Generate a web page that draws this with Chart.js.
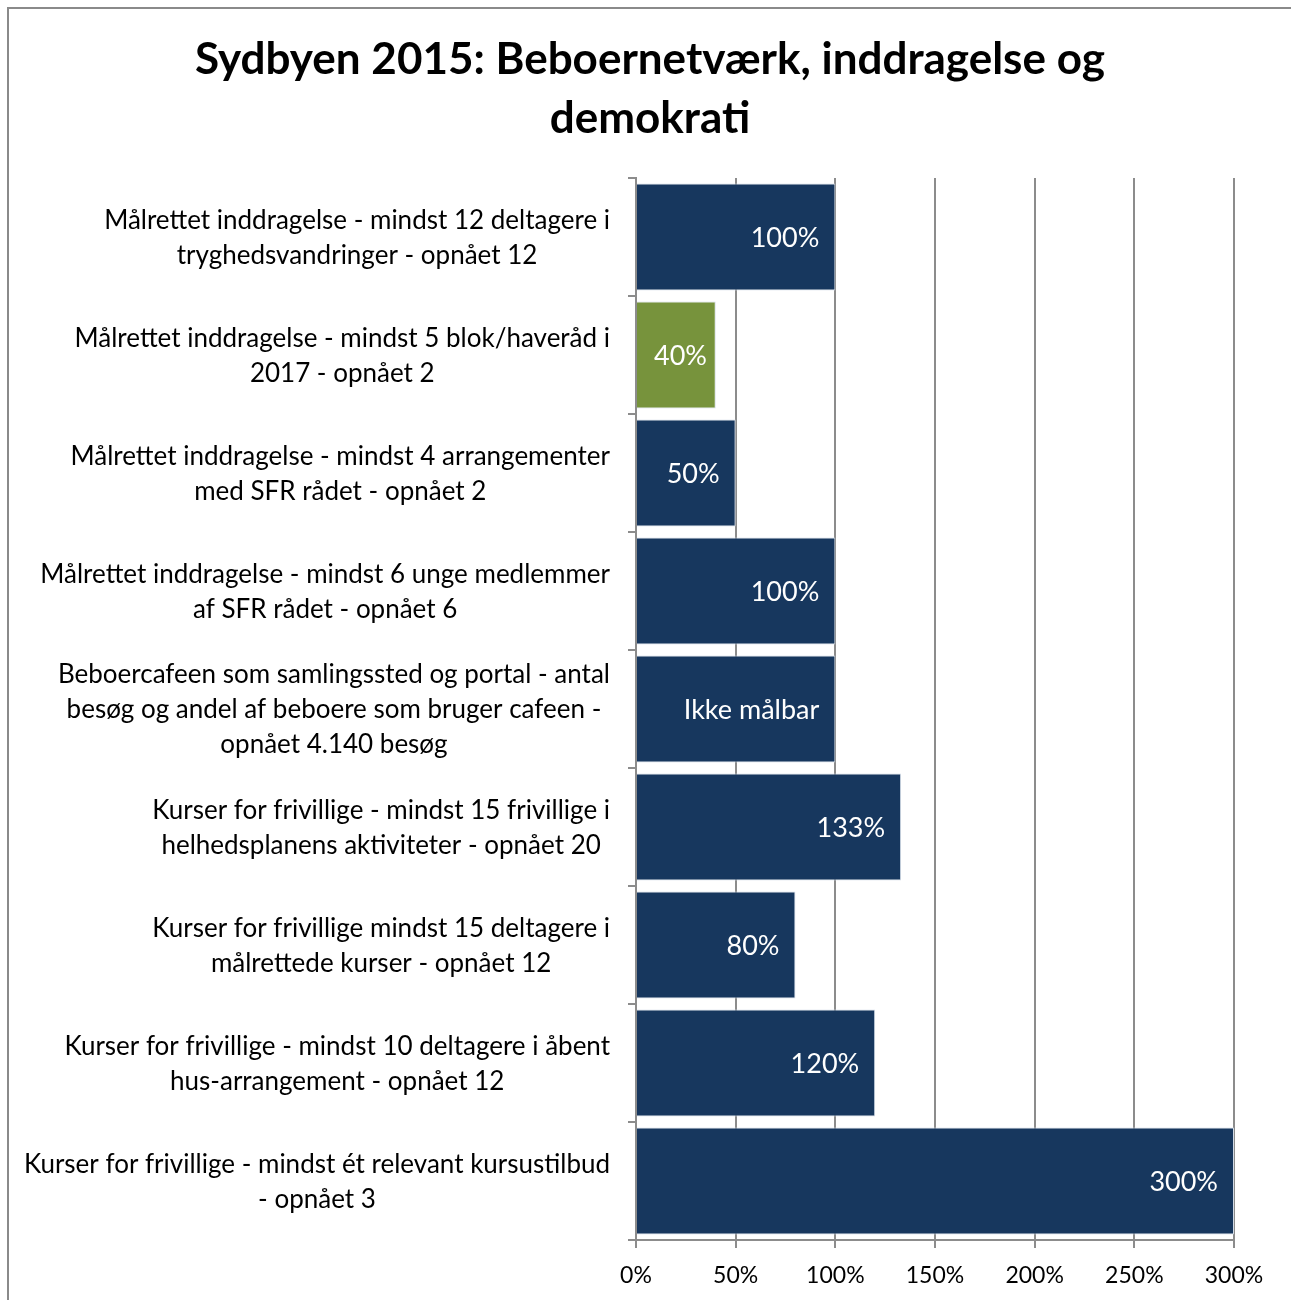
<!DOCTYPE html>
<html>
<head>
<meta charset="utf-8">
<script src="https://cdn.jsdelivr.net/npm/chart.js@4.4.0/dist/chart.umd.min.js"></script>
<style>
  html, body { margin: 0; padding: 0; background: #fff; }
  #wrap { position: relative; width: 1291px; height: 1300px; overflow: hidden; }
  #frame { position: absolute; left: 7px; top: 7px; width: 1300px; height: 1310px; border: 2px solid #8a8a8a; box-sizing: border-box; pointer-events: none; }
  canvas { position: absolute; left: 0; top: 0; }
</style>
</head>
<body>
<div id="wrap">
  <canvas id="chart" width="1291" height="1300"></canvas>
  <div id="frame"></div>
</div>
<script>
const categories = [
  ['Målrettet inddragelse - mindst 12 deltagere i', 'tryghedsvandringer - opnået 12'],
  ['Målrettet inddragelse - mindst 5 blok/haveråd i', '2017 - opnået 2'],
  ['Målrettet inddragelse - mindst 4 arrangementer', 'med SFR rådet - opnået 2'],
  ['Målrettet inddragelse - mindst 6 unge medlemmer', 'af SFR rådet - opnået 6'],
  ['Beboercafeen som samlingssted og portal - antal', 'besøg og andel af beboere som bruger cafeen -', 'opnået 4.140 besøg'],
  ['Kurser for frivillige - mindst 15 frivillige i', 'helhedsplanens aktiviteter - opnået 20'],
  ['Kurser for frivillige mindst 15 deltagere i', 'målrettede kurser - opnået 12'],
  ['Kurser for frivillige - mindst 10 deltagere i åbent', 'hus-arrangement - opnået 12'],
  ['Kurser for frivillige - mindst ét relevant kursustilbud', '- opnået 3']
];
const achieved = [100, 40, 50, 100, 100, 133, 80, 120, 300];
const barLabels = ['100%', '40%', '50%', '100%', 'Ikke målbar', '133%', '80%', '120%', '300%'];
const xTicks = [0, 50, 100, 150, 200, 250, 300];

const FONT = 'Lato';
const NAVY = '#17375E';
const GREEN = '#77933C';
const GRID = '#8c8c8c';

// white value labels at the inner end of each bar
const valueLabels = {
  id: 'valueLabels',
  afterDatasetsDraw(chart) {
    const { ctx } = chart;
    const meta = chart.getDatasetMeta(0);
    ctx.save();
    ctx.font = '27px ' + FONT;
    ctx.fillStyle = '#fff';
    ctx.textAlign = 'right';
    ctx.textBaseline = 'middle';
    meta.data.forEach((bar, i) => {
      const { x, y, base } = bar.getProps(['x', 'y', 'base'], true);
      const w = ctx.measureText(barLabels[i]).width;
      const tx = Math.max(x - 16, base + w + 17);
      ctx.fillText(barLabels[i], tx, y + 1);
    });
    ctx.restore();
  }
};

// category labels: block right aligned, lines centred within the block
const categoryLabels = {
  id: 'categoryLabels',
  afterDraw(chart) {
    const { ctx } = chart;
    const y = chart.scales.y;
    ctx.save();
    ctx.font = '26px ' + FONT;
    ctx.fillStyle = '#000';
    ctx.textAlign = 'center';
    ctx.textBaseline = 'middle';
    const right = y.right - 26;
    const lineH = 35;
    categories.forEach((lines, i) => {
      const w = Math.max(...lines.map(l => ctx.measureText(l).width));
      const cx = right - w / 2;
      const cy = y.getPixelForValue(i) + 1;
      lines.forEach((l, j) => {
        ctx.fillText(l, cx, cy + (j - (lines.length - 1) / 2) * lineH);
      });
    });
    ctx.restore();
  }
};

new Chart(document.getElementById('chart'), {
  type: 'bar',
  data: {
    labels: categories,
    datasets: [{
      data: achieved,
      backgroundColor: c => c.raw < 50 ? GREEN : NAVY,
      borderColor: '#d3dbe6',
      borderWidth: 1,
      barPercentage: 0.907,
      categoryPercentage: 1
    }]
  },
  options: {
    indexAxis: 'y',
    responsive: false,
    animation: false,
    layout: { padding: { left: 66, right: 57, top: 0, bottom: 0 } },
    plugins: {
      legend: { display: false },
      tooltip: { enabled: false },
      title: {
        display: true,
        text: ['Sydbyen 2015: Beboernetværk, inddragelse og', 'demokrati'],
        color: '#000',
        font: { family: FONT, size: 44, weight: 'bold', lineHeight: 1.33 },
        padding: { top: 31, bottom: 30 }
      }
    },
    scales: {
      x: {
        min: 0,
        max: 300,
        afterFit: s => { s.height = 60; },
        afterBuildTicks: s => { s.ticks = xTicks.map(v => ({ value: v })); },
        grid: { color: GRID, lineWidth: 2, tickLength: 8 },
        border: { color: GRID, width: 2 },
        ticks: {
          callback: v => v + '%',
          color: '#000',
          font: { family: FONT, size: 23 },
          padding: 14,
          maxRotation: 0
        }
      },
      y: {
        afterFit: s => { s.width = 570; },
        grid: { drawOnChartArea: false, tickLength: 8, color: GRID, lineWidth: 2, offset: true },
        border: { color: GRID, width: 2 },
        ticks: { display: false }
      }
    }
  },
  plugins: [valueLabels, categoryLabels]
});
</script>
</body>
</html>
